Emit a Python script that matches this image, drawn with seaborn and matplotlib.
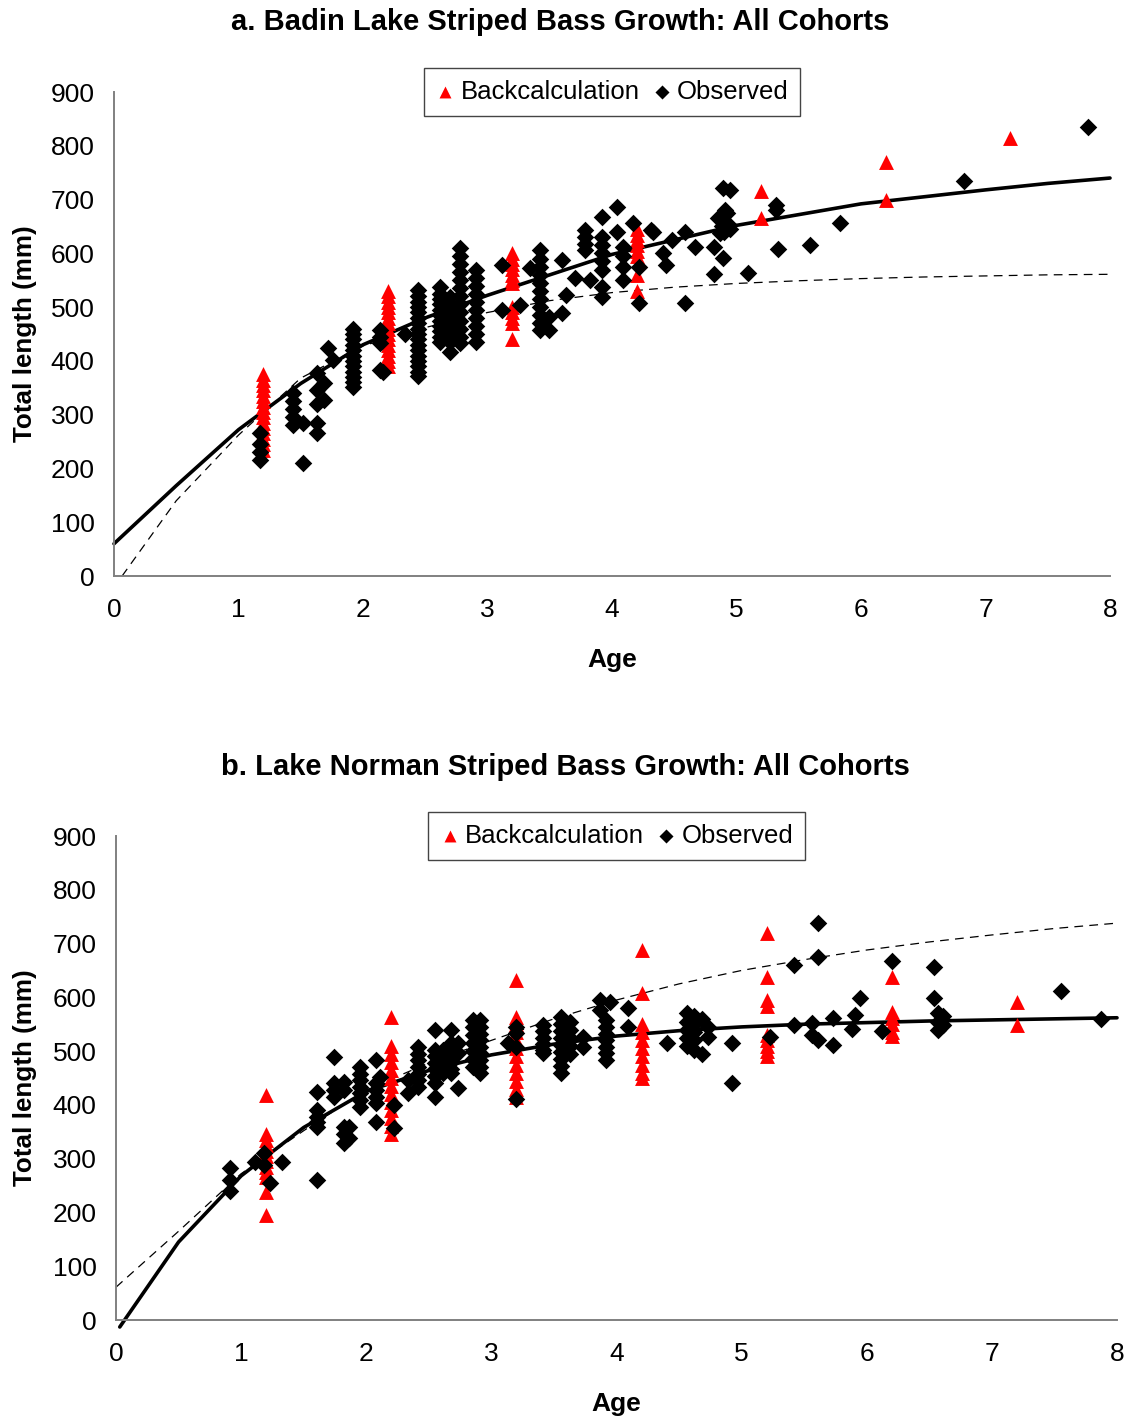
import matplotlib
matplotlib.use("Agg")
import matplotlib.pyplot as plt
import seaborn as sns
import pandas as pd

# ---------------- Data: panel a (Badin Lake) ----------------
a_back_age = [1.2]*15 + [2.2]*15 + [3.2]*12 + [4.2]*8 + [5.2]*2 + [6.2]*2 + [7.2]
a_back_len = [375, 365, 355, 345, 335, 325, 315, 305, 295, 285, 275, 265, 255, 245, 235,
              530, 520, 510, 500, 490, 480, 470, 460, 450, 440, 430, 420, 410, 400, 390,
              600, 590, 580, 570, 560, 550, 545, 500, 490, 480, 470, 440,
              645, 635, 625, 615, 605, 595, 560, 530,
              715, 665,
              770, 700,
              815]

a_obs_age = ([1.17]*4 + [1.44]*5 + [1.52]*2 + [1.63]*5 + [1.69]*2 + [1.72, 1.76]
             + [1.92]*12 + [2.14]*4 + [2.16, 2.34] + [2.44]*17 + [2.62]*11 + [2.70]*9
             + [2.78]*13 + [2.91]*10 + [3.12]*2 + [3.26, 3.34] + [3.42]*11 + [3.49]*2
             + [3.60]*2 + [3.63, 3.70] + [3.78]*4 + [3.82] + [3.92]*8 + [4.04]*2 + [4.09]*4
             + [4.17] + [4.22]*2 + [4.31, 4.33, 4.41, 4.43, 4.48] + [4.59]*2 + [4.67]
             + [4.82]*2 + [4.85, 4.88, 4.90, 4.92, 4.93, 4.95, 4.87, 4.91] + [4.89]*2
             + [4.95, 5.09] + [5.32]*2 + [5.33, 5.59, 5.83, 6.83, 7.82])
a_obs_len = ([265, 245, 230, 215] + [340, 325, 310, 295, 280] + [285, 210]
             + [377, 346, 320, 285, 266] + [359, 327] + [424, 402]
             + [460, 450, 440, 430, 420, 410, 400, 390, 380, 370, 360, 352]
             + [457, 445, 433, 383] + [380, 450]
             + [532, 520, 510, 500, 490, 480, 470, 460, 450, 440, 430, 420, 410, 400, 390, 380, 372]
             + [537, 525, 515, 505, 495, 485, 475, 465, 455, 445, 435]
             + [519, 505, 495, 485, 475, 465, 450, 435, 416]
             + [610, 595, 580, 565, 550, 535, 520, 505, 490, 475, 460, 445, 433]
             + [569, 555, 540, 525, 510, 495, 480, 465, 450, 435]
             + [578, 495] + [504, 572]
             + [606, 590, 575, 560, 545, 530, 515, 500, 485, 470, 457] + [482, 457]
             + [588, 489] + [522, 554] + [643, 630, 618, 606] + [550]
             + [668, 630, 615, 600, 585, 569, 537, 519] + [686, 640] + [612, 595, 575, 550]
             + [656] + [575, 507] + [643, 640, 600, 578, 625] + [640, 507] + [612]
             + [612, 561] + [665, 650, 640, 675, 655, 645, 638, 680] + [721, 591]
             + [717, 564] + [690, 680] + [608, 615, 656, 735, 835])

a_solid_age = [0, 0.5, 1, 1.5, 2, 2.5, 3, 3.5, 4, 4.5, 5, 5.5, 6, 6.5, 7, 7.5, 8]
a_solid_len = [60, 168, 272, 358, 430, 480, 522, 560, 598, 625, 652, 672, 692, 705, 718, 730, 740]
a_dash_age = [0.065, 0.5, 1, 1.5, 2, 2.5, 3, 3.5, 4, 4.5, 5, 5.5, 6, 6.5, 7, 7.5, 8]
a_dash_len = [0, 140, 262, 368, 428, 462, 490, 512, 527, 537, 544, 549, 553, 556, 558, 560, 561]

# ---------------- Data: panel b (Lake Norman) ----------------
b_back_age = [1.2]*12 + [2.2]*13 + [3.2]*12 + [4.2]*10 + [5.2]*9 + [6.2]*6 + [7.2]*2
b_back_len = [418, 345, 335, 325, 315, 305, 295, 285, 275, 265, 238, 195,
              563, 510, 495, 480, 465, 450, 435, 420, 405, 390, 375, 360, 345,
              632, 563, 550, 535, 520, 505, 490, 475, 460, 445, 430, 415,
              688, 608, 550, 535, 520, 505, 490, 475, 460, 450,
              720, 638, 595, 583, 530, 520, 510, 500, 490,
              638, 572, 562, 550, 535, 528,
              591, 548]

b_obs_age = ([0.91]*3 + [1.11] + [1.18]*2 + [1.23, 1.33] + [1.61]*6 + [1.74]*4 + [1.82]*5
             + [1.86]*2 + [1.95]*7 + [2.08]*6 + [2.11] + [2.22]*2 + [2.33]*2 + [2.41]*7
             + [2.55]*8 + [2.61]*5 + [2.68]*7 + [2.73]*3 + [2.85]*7 + [2.91]*9 + [3.13]
             + [3.20]*4 + [3.41]*6 + [3.56]*9 + [3.63]*5 + [3.73]*2 + [3.87]*2 + [3.92]*7
             + [3.95] + [4.09]*2 + [4.40] + [4.56]*5 + [4.62]*5 + [4.68]*2 + [4.73]*2
             + [4.92]*2 + [5.23] + [5.42]*2 + [5.56]*2 + [5.61]*3 + [5.73]*2
             + [5.88, 5.91, 5.95, 6.12, 6.20] + [6.54]*2 + [6.57]*3 + [6.61]*2 + [7.55, 7.87])
b_obs_len = ([282, 260, 240] + [294] + [311, 288] + [255, 294]
             + [424, 390, 378, 368, 359, 260] + [489, 440, 428, 415]
             + [443, 428, 359, 345, 329] + [359, 338]
             + [470, 458, 446, 434, 422, 410, 396] + [483, 440, 428, 415, 403, 368] + [452]
             + [400, 357] + [446, 422] + [508, 495, 483, 470, 458, 446, 433]
             + [539, 502, 490, 478, 466, 453, 440, 415] + [502, 490, 478, 466, 459]
             + [539, 515, 503, 491, 479, 467, 459] + [515, 496, 431]
             + [558, 545, 530, 515, 500, 485, 470] + [558, 545, 532, 520, 508, 496, 483, 470, 459]
             + [515] + [545, 534, 508, 411] + [549, 537, 525, 513, 502, 496]
             + [563, 550, 537, 524, 511, 498, 485, 472, 459] + [555, 540, 525, 510, 495]
             + [526, 508] + [595, 576] + [558, 545, 532, 520, 508, 496, 483] + [591]
             + [580, 545] + [515] + [571, 555, 540, 525, 510] + [565, 550, 535, 520, 502]
             + [495, 560] + [545, 526] + [515, 440] + [526] + [660, 549] + [552, 530]
             + [738, 675, 521] + [561, 511] + [541, 567, 599, 537, 668] + [657, 599]
             + [571, 555, 539] + [565, 548] + [612, 560])

b_solid_age = [0.03, 0.5, 1, 1.5, 2, 2.5, 3, 3.5, 4, 4.5, 5, 5.5, 6, 6.5, 7, 7.5, 8]
b_solid_len = [-13, 145, 268, 358, 425, 464, 493, 513, 528, 538, 545, 550, 553, 556, 558, 560, 562]
b_dash_age = [0, 0.5, 1, 1.5, 2, 2.5, 3, 3.5, 4, 4.5, 5, 5.5, 6, 6.5, 7, 7.5, 8]
b_dash_len = [61, 165, 272, 352, 428, 478, 520, 560, 595, 625, 650, 670, 688, 703, 716, 728, 738]

titles = ["a. Badin Lake Striped Bass Growth: All Cohorts",
          "b. Lake Norman Striped Bass Growth: All Cohorts"]
y_ticks = [0, 100, 200, 300, 400, 500, 600, 700, 800, 900]
x_ticks = [0, 1, 2, 3, 4, 5, 6, 7, 8]

# ---------------- Plot ----------------
sns.set_theme(style="white")
plt.rcParams['font.family'] = ['Liberation Sans', 'DejaVu Sans']
plt.rcParams['text.color'] = 'black'
plt.rcParams['axes.labelcolor'] = 'black'
plt.rcParams['xtick.color'] = 'black'
plt.rcParams['ytick.color'] = 'black'

W, H = 1124, 1420
fig = plt.figure(figsize=(W / 100, H / 100), dpi=100)

panels = [
    dict(box=(114, 92, 1110, 576), title_xy=(560, 22),
         back=(a_back_age, a_back_len), obs=(a_obs_age, a_obs_len),
         solid=(a_solid_age, a_solid_len), dash=(a_dash_age, a_dash_len)),
    dict(box=(116, 836, 1117, 1320), title_xy=(565, 767),
         back=(b_back_age, b_back_len), obs=(b_obs_age, b_obs_len),
         solid=(b_solid_age, b_solid_len), dash=(b_dash_age, b_dash_len)),
]

axis_gray = '#808080'
for i, p in enumerate(panels):
    l, t, r, b = p['box']
    ax = fig.add_axes([l / W, 1 - b / H, (r - l) / W, (b - t) / H])

    sns.lineplot(x=p['dash'][0], y=p['dash'][1], ax=ax, color='black', lw=0.9,
                 linestyle=(0, (7, 5)), sort=False, estimator=None, zorder=1)
    sns.lineplot(x=p['solid'][0], y=p['solid'][1], ax=ax, color='black', lw=2.6,
                 sort=False, estimator=None, zorder=2)
    for ln in ax.get_lines():
        ln.set_clip_on(False)

    sns.scatterplot(x=p['back'][0], y=p['back'][1], ax=ax, marker='^', color='#ff0000',
                    s=115, linewidth=0, label='Backcalculation', zorder=3)
    sns.scatterplot(x=p['obs'][0], y=p['obs'][1], ax=ax, marker='D', color='black',
                    s=80, linewidth=0, label='Observed', zorder=4)

    ax.set_xlim(0, 8)
    ax.set_ylim(0, 900)
    ax.set_xticks(x_ticks)
    ax.set_yticks(y_ticks)
    ax.set_xticklabels([str(v) for v in x_ticks])
    ax.set_yticklabels([str(v) for v in y_ticks])

    for s in ['top', 'right']:
        ax.spines[s].set_visible(False)
    for s in ['left', 'bottom']:
        ax.spines[s].set_color(axis_gray)
        ax.spines[s].set_linewidth(1.4)
    ax.tick_params(axis='both', which='major', direction='out', length=5, width=1.4,
                   color=axis_gray, labelsize=19, labelcolor='black')
    ax.tick_params(axis='y', pad=9)
    ax.tick_params(axis='x', pad=11)
    ax.grid(False)

    ax.set_xlabel('Age', fontsize=19, fontweight='bold', color='black')
    ax.set_ylabel('Total length (mm)', fontsize=18.7, fontweight='bold', color='black')
    ax.xaxis.set_label_coords(0.5, -84 / (b - t))
    ax.xaxis.label.set_va('center')
    ax.yaxis.set_label_coords(-(l - 25) / (r - l), 0.5)
    ax.yaxis.label.set_va('center')

    handles, labels = ax.get_legend_handles_labels()
    keep = [(h, lb) for h, lb in zip(handles, labels) if lb in ('Backcalculation', 'Observed')]
    leg = ax.legend([k[0] for k in keep], [k[1] for k in keep], loc='center',
                    bbox_to_anchor=(0.5, 1.0), ncol=2, fontsize=18.5, frameon=True,
                    fancybox=False, edgecolor='#444444', framealpha=1,
                    markerscale=0.8, handlelength=0.8, handletextpad=0.2,
                    columnspacing=0.45, borderpad=0.45, borderaxespad=0)
    leg.get_frame().set_linewidth(1.0)
    leg.set_zorder(10)
    for txt in leg.get_texts():
        txt.set_color('black')

    fig.text(p['title_xy'][0] / W, 1 - p['title_xy'][1] / H, titles[i],
             ha='center', va='center', fontsize=21, fontweight='bold', color='black')

fig.savefig('out.png', dpi=100, facecolor='white')
